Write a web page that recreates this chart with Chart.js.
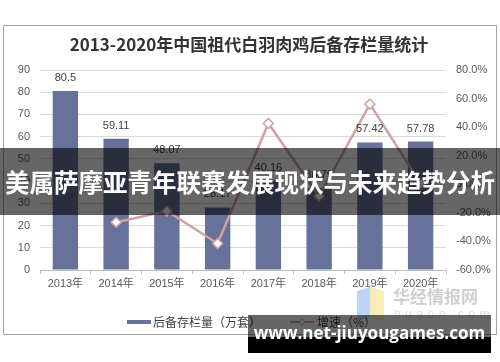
<!DOCTYPE html>
<html>
<head>
<meta charset="utf-8">
<script src="https://cdn.jsdelivr.net/npm/chart.js@4.4.0/dist/chart.umd.min.js"></script>
<style>
body { margin:0; background:#fff; }
#wrap { position:relative; width:500px; height:362px; overflow:hidden; }
#banner { position:absolute; left:0; top:148px; width:500px; height:67px; background:rgba(0,0,0,0.6);
  color:#fff; font:bold 24.5px "Noto Sans CJK SC", sans-serif; line-height:67px; text-align:center; white-space:nowrap; }
#url { position:absolute; left:248px; top:315px; width:243px; height:38px;
  background:linear-gradient(to bottom, rgba(0,0,0,0.6) 0, rgba(0,0,0,0.6) 22px, #000 22px);
  color:#fff; font:bold 17px "Open Sans", "DejaVu Sans", sans-serif; line-height:36px; text-align:center; white-space:nowrap; }
#wm { position:absolute; left:357px; top:285px; width:140px; height:45px; opacity:0.6; white-space:nowrap; }
#wm .a { position:absolute; left:0; top:4px; width:13px; height:30px; background:#8fb8ef; transform:skewY(-18deg); }
#wm .b { position:absolute; left:13px; top:4px; width:14px; height:30px; background:#f7e08a; transform:skewY(18deg); }
#wm .t1 { position:absolute; left:36px; top:1px; font:bold 17px "Noto Sans CJK SC", sans-serif; color:#b0b0b0; line-height:20px; }
#wm .t2 { position:absolute; left:37px; top:22px; font:12px "Liberation Sans", sans-serif; color:#c8c8c8; letter-spacing:4.5px; line-height:14px; }
</style>
</head>
<body>
<div id="wrap">
<canvas id="chart" width="500" height="362"></canvas>
<div id="wm"><div class="a"></div><div class="b"></div><div class="t1">华经情报网</div><div class="t2">huaon.com</div></div>
<div id="banner">美属萨摩亚青年联赛发展现状与未来趋势分析</div>
<div id="url">www.net-jiuyougames.com</div>
</div>
<script>
var years = ['2013年', '2014年', '2015年', '2016年', '2017年', '2018年', '2019年', '2020年'];
var stock = [80.5, 59.11, 48.07, 28.17, 40.16, 36.79, 57.42, 57.78];
var growth = [null, -26.6, -18.7, -41.4, 42.6, -8.4, 56.1, 0.6];
var chartTitle = '2013-2020年中国祖代白羽肉鸡后备存栏量统计';
var stockLabel = '后备存栏量（万套）';
var growthLabel = '增速（%）';

var barColor = '#67729b';
var lineColor = '#d2a2a2';
var textColor = '#595959';

// frame, title, value labels and legend
var extras = {
	id: 'extras',
	beforeDraw: function(chart) {
		var ctx = chart.ctx;
		ctx.save();
		ctx.fillStyle = '#fff';
		ctx.fillRect(0, 0, 500, 362);
		ctx.strokeStyle = '#a6a6a6';
		ctx.lineWidth = 1;
		ctx.strokeRect(3.5, 25.5, 493, 309);
		ctx.fillStyle = '#333';
		ctx.font = 'bold 17px "Noto Sans CJK SC", sans-serif';
		ctx.textAlign = 'center';
		ctx.textBaseline = 'middle';
		ctx.fillText(chartTitle, 249, 45);
		ctx.restore();
	},
	afterDatasetsDraw: function(chart) {
		var ctx = chart.ctx;
		ctx.save();
		ctx.font = '11px "Liberation Sans", sans-serif';
		ctx.fillStyle = '#404040';
		ctx.textAlign = 'center';
		ctx.textBaseline = 'middle';
		var meta = chart.getDatasetMeta(1);
		meta.data.forEach(function(bar, i) {
			ctx.fillText(String(stock[i]), bar.x, bar.y - 13);
		});
		// legend
		ctx.fillStyle = barColor;
		ctx.fillRect(127, 320, 24, 4);
		ctx.font = '12px "Noto Sans CJK SC", sans-serif';
		ctx.fillStyle = '#404040';
		ctx.textAlign = 'left';
		ctx.fillText(stockLabel, 153, 322);
		ctx.strokeStyle = lineColor;
		ctx.lineWidth = 2;
		ctx.beginPath();
		ctx.moveTo(290, 322);
		ctx.lineTo(314, 322);
		ctx.stroke();
		ctx.fillStyle = '#fff';
		ctx.lineWidth = 1;
		ctx.beginPath();
		ctx.moveTo(302, 319); ctx.lineTo(305, 322); ctx.lineTo(302, 325); ctx.lineTo(299, 322); ctx.closePath();
		ctx.fill(); ctx.stroke();
		ctx.fillStyle = '#404040';
		ctx.fillText(growthLabel, 317, 322);
		ctx.restore();
	}
};

var tickFont = { family: '"Liberation Sans", "Noto Sans CJK SC", sans-serif', size: 11 };

new Chart(document.getElementById('chart'), {
	type: 'bar',
	data: {
		labels: years,
		datasets: [{
			type: 'line',
			label: growthLabel,
			data: growth,
			yAxisID: 'y1',
			borderColor: lineColor,
			borderWidth: 2.5,
			pointStyle: 'rectRot',
			pointRadius: 5,
			pointBackgroundColor: '#fff',
			pointBorderColor: lineColor,
			pointBorderWidth: 1.5,
			tension: 0,
			order: 0
		}, {
			label: stockLabel,
			data: stock,
			yAxisID: 'y',
			backgroundColor: barColor,
			barPercentage: 0.5,
			categoryPercentage: 1,
			order: 1
		}]
	},
	options: {
		responsive: false,
		animation: false,
		layout: { padding: { top: 70, bottom: 0, left: 0, right: 0 } },
		plugins: { legend: { display: false }, title: { display: false }, tooltip: { enabled: false } },
		scales: {
			x: {
				afterFit: function(s) { s.height = 92; },
				grid: { drawOnChartArea: false, drawTicks: true, tickLength: 4, color: '#bfbfbf', offset: true },
				border: { color: '#bfbfbf' },
				ticks: { color: textColor, font: tickFont, padding: 3, maxRotation: 0 }
			},
			y: {
				position: 'left',
				min: 0, max: 90,
				afterFit: function(s) { s.width = 40; },
				grid: { color: '#d9d9d9', drawTicks: false },
				border: { display: false },
				ticks: { stepSize: 10, color: textColor, font: tickFont, padding: 10 }
			},
			y1: {
				position: 'right',
				min: -60, max: 80,
				afterFit: function(s) { s.width = 54; },
				grid: { drawOnChartArea: false, drawTicks: false },
				border: { display: false },
				ticks: { stepSize: 20, color: textColor, font: tickFont, padding: 10,
					callback: function(v) { return v.toFixed(1) + '%'; } }
			}
		}
	},
	plugins: [extras]
});
</script>
</body>
</html>
